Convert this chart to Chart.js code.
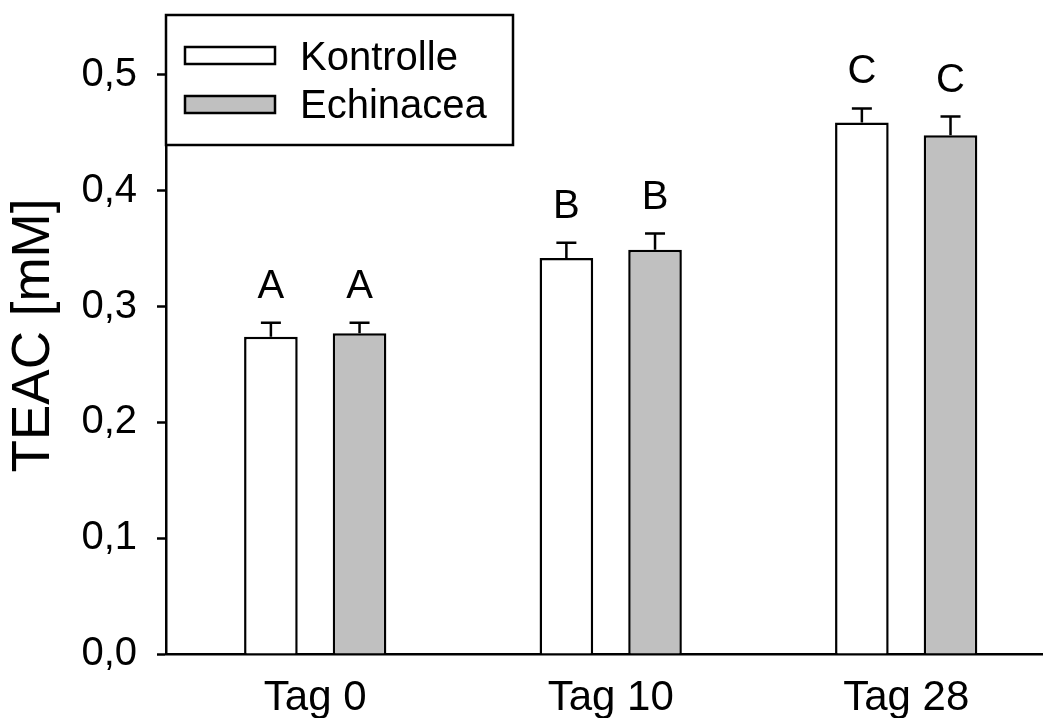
<!DOCTYPE html>
<html>
<head>
<meta charset="utf-8">
<script src="https://cdn.jsdelivr.net/npm/chart.js@4.4.1/dist/chart.umd.min.js"></script>
<style>
  html, body { margin: 0; padding: 0; background: #fff; }
</style>
</head>
<body>
<canvas id="grafica" width="1043" height="718"></canvas>
<script>
// Datos
const categories = ['Tag 0', 'Tag 10', 'Tag 28'];
const kontrolle = [0.274, 0.342, 0.459];
const kontrolleErr = [0.012, 0.013, 0.012];
const echinacea = [0.277, 0.349, 0.448];
const echinaceaErr = [0.009, 0.014, 0.016];
const kontrolleLetters = ['A', 'B', 'C'];
const echinaceaLetters = ['A', 'B', 'C'];
const yTicks = [0, 0.1, 0.2, 0.3, 0.4, 0.5];

const FONT = '"Liberation Sans", Arial, Helvetica, sans-serif';

// Barras de error, letras y leyenda con caja
const extras = {
  id: 'extras',
  afterDatasetsDraw(chart) {
    const ctx = chart.ctx;
    const yScale = chart.scales.y;
    ctx.save();
    chart.data.datasets.forEach((ds, d) => {
      const meta = chart.getDatasetMeta(d);
      meta.data.forEach((bar, i) => {
        const top = yScale.getPixelForValue(ds.data[i].y + ds.err[i]);
        ctx.strokeStyle = '#000';
        ctx.lineWidth = 2.5;
        ctx.beginPath();
        ctx.moveTo(bar.x, bar.y);
        ctx.lineTo(bar.x, top);
        ctx.moveTo(bar.x - 10, top);
        ctx.lineTo(bar.x + 10, top);
        ctx.stroke();

        ctx.fillStyle = '#000';
        ctx.font = '40px ' + FONT;
        ctx.textAlign = 'center';
        ctx.textBaseline = 'alphabetic';
        ctx.fillText(ds.letters[i], bar.x, top - 25);
      });
    });
    ctx.restore();
  },
  afterDraw(chart) {
    const ctx = chart.ctx;
    ctx.save();
    ctx.fillStyle = '#fff';
    ctx.fillRect(166, 15, 347, 130);
    ctx.strokeStyle = '#000';
    ctx.lineWidth = 2.5;
    ctx.strokeRect(166, 15, 347, 130);

    chart.data.datasets.forEach((ds, d) => {
      const top = 47 + d * 49;
      ctx.fillStyle = ds.backgroundColor;
      ctx.fillRect(185, top, 90, 17);
      ctx.lineWidth = 2.5;
      ctx.strokeRect(185, top, 90, 17);
      ctx.fillStyle = '#000';
      ctx.font = '40px ' + FONT;
      ctx.textAlign = 'left';
      ctx.textBaseline = 'alphabetic';
      ctx.fillText(ds.label, 300, 70 + d * 48);
    });
    ctx.restore();
  }
};

function noPadding(scale) {
  scale.paddingLeft = 0;
  scale.paddingRight = 0;
  scale.paddingTop = 0;
  scale.paddingBottom = 0;
}

const options = {
  responsive: false,
  animation: false,
  devicePixelRatio: 1,
  layout: { padding: { top: 17, right: 0, left: 0, bottom: 0 } },
  plugins: {
    legend: { display: false },
    tooltip: { enabled: false }
  },
  scales: {
    x: {
      type: 'linear',
      offset: false,
      min: -0.505,
      max: 2.463,
      grid: { display: false, offset: false },
      border: { display: true, color: '#000', width: 2.5 },
      ticks: {
        color: '#000',
        font: { family: FONT, size: 42 },
        padding: 11,
        maxRotation: 0,
        callback: v => categories[v]
      },
      afterBuildTicks: scale => {
        scale.ticks = categories.map((c, i) => ({ value: i }));
      },
      afterFit: scale => {
        scale.height = 64;
        noPadding(scale);
      }
    },
    y: {
      min: 0,
      max: 0.55,
      grid: {
        drawOnChartArea: false,
        drawTicks: true,
        tickLength: 9,
        tickWidth: 2.5,
        color: '#000'
      },
      border: { display: true, color: '#000', width: 2.5 },
      ticks: {
        color: '#000',
        font: { family: FONT, size: 40 },
        padding: 20,
        callback: v => v.toFixed(1).replace('.', ',')
      },
      afterBuildTicks: scale => {
        scale.ticks = yTicks.map(v => ({ value: v }));
      },
      title: {
        display: true,
        text: 'TEAC [mM]',
        color: '#000',
        font: { family: FONT, size: 53 },
        padding: { top: 3, bottom: 0 }
      },
      afterFit: scale => {
        scale.width = 166;
        noPadding(scale);
      }
    }
  }
};

const chart = new Chart(document.getElementById('grafica'), {
  type: 'bar',
  data: {
    datasets: [{
      label: 'Kontrolle',
      data: kontrolle.map((v, i) => ({ x: i, y: v })),
      err: kontrolleErr,
      letters: kontrolleLetters,
      backgroundColor: '#ffffff',
      borderColor: '#000',
      borderWidth: 2.5,
      categoryPercentage: 0.6,
      barPercentage: 0.605
    }, {
      label: 'Echinacea',
      data: echinacea.map((v, i) => ({ x: i, y: v })),
      err: echinaceaErr,
      letters: echinaceaLetters,
      backgroundColor: '#c0c0c0',
      borderColor: '#000',
      borderWidth: 2.5,
      categoryPercentage: 0.6,
      barPercentage: 0.605
    }]
  },
  options: options,
  plugins: [extras]
});
</script>
</body>
</html>
